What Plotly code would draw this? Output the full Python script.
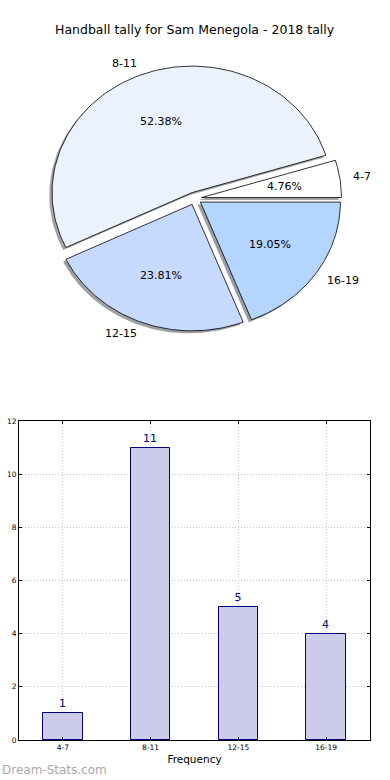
import numpy as np
import plotly.graph_objects as go

# ---- data ----
categories = ["4-7", "8-11", "12-15", "16-19"]
counts = [1, 11, 5, 4]
slice_colors = ["#ffffff", "#eaf2fe", "#c6d9fe", "#b3d5fe"]
y_ticks = [0, 2, 4, 6, 8, 10, 12]

title_text = "Handball tally for Sam Menegola - 2018 tally"
x_label = "Frequency"
y_label = "Scores in bin"
watermark = "Dream-Stats.com"

FONT = "DejaVu Sans"
explode = 0.05

fig = go.Figure()

# ---- pie drawn as filled polygons on its own axes (x2/y2) ----
total = float(sum(counts))
fracs = [c / total for c in counts]
starts = np.cumsum([0] + fracs[:-1]) * 360.0
ends = np.cumsum(fracs) * 360.0


def hex_to_rgb(h):
    h = h.lstrip("#")
    return tuple(int(h[i:i + 2], 16) for i in (0, 2, 4))


wedges = []
for cat, f, t1, t2, col in zip(categories, fracs, starts, ends, slice_colors):
    mid = np.deg2rad((t1 + t2) / 2)
    dx, dy = explode * np.cos(mid), explode * np.sin(mid)
    th = np.deg2rad(np.linspace(t1, t2, 120))
    xs = np.concatenate([[dx], dx + np.cos(th), [dx]])
    ys = np.concatenate([[dy], dy + np.sin(th), [dy]])
    wedges.append((cat, f, mid, dx, dy, xs, ys, col))

# shadows first
for cat, f, mid, dx, dy, xs, ys, col in wedges:
    r, g, b = hex_to_rgb(col)
    sc = "rgba(%d,%d,%d,0.5)" % (int(0.3 * r), int(0.3 * g), int(0.3 * b))
    fig.add_trace(go.Scatter(x=xs - 0.02, y=ys - 0.02, mode="lines", fill="toself",
                             fillcolor=sc, line=dict(width=0), hoverinfo="skip",
                             showlegend=False, xaxis="x2", yaxis="y2"))

for cat, f, mid, dx, dy, xs, ys, col in wedges:
    fig.add_trace(go.Scatter(x=xs, y=ys, mode="lines", fill="toself",
                             fillcolor=col, line=dict(color="black", width=0.8),
                             name=cat, showlegend=False, xaxis="x2", yaxis="y2",
                             hoverinfo="name"))
    lx, ly = dx + 1.1 * np.cos(mid), dy + 1.1 * np.sin(mid)
    fig.add_annotation(x=lx, y=ly, xref="x2", yref="y2", text=cat, showarrow=False,
                       xanchor="left" if lx > 0 else "right", yanchor="middle",
                       xshift=-3 if lx > 0 else 3,
                       font=dict(family=FONT, size=11, color="black"))
    px, py = dx + 0.6 * np.cos(mid), dy + 0.6 * np.sin(mid)
    fig.add_annotation(x=px, y=py, xref="x2", yref="y2", text="%.2f%%" % (f * 100),
                       showarrow=False, xanchor="center", yanchor="middle",
                       font=dict(family=FONT, size=11, color="black"))

# ---- bar chart ----
fig.add_trace(go.Bar(x=list(range(len(categories))), y=counts, width=0.45,
                     marker=dict(color="#ccccea", line=dict(color="#000080", width=1)),
                     text=[str(c) for c in counts], textposition="outside",
                     textfont=dict(family=FONT, size=11, color="#000080"),
                     cliponaxis=False, showlegend=False, xaxis="x", yaxis="y"))

W, H = 390, 780
cx_px, cy_px = 194.6, 198.5
rx_px, ry_px = 140.0, 126.5

grid_common = dict(showgrid=True, gridcolor="#c4c4c4", griddash="1px,2px", gridwidth=1,
                   tickfont=dict(size=7.5), ticks="inside", ticklen=3, tickcolor="black",
                   showline=True, linecolor="black", linewidth=1, mirror="ticks",
                   zeroline=False, layer="above traces", automargin=False)

fig.update_layout(
    width=W, height=H,
    margin=dict(l=0, r=0, t=0, b=0, pad=0, autoexpand=False),
    paper_bgcolor="white", plot_bgcolor="white",
    font=dict(family=FONT, color="black"),
    bargap=0,
    xaxis=dict(domain=[19 / W, 370 / W], range=[-0.5, 3.5],
               tickmode="array", tickvals=list(range(len(categories))), ticktext=categories,
               title=dict(text=x_label, font=dict(size=10.5), standoff=4), **grid_common),
    yaxis=dict(domain=[1 - 740 / H, 1 - 421 / H], range=[0, 12],
               tickmode="array", tickvals=y_ticks, ticktext=[str(v) for v in y_ticks],
               **grid_common),
    xaxis2=dict(domain=[0, 1], range=[-cx_px / rx_px, (W - cx_px) / rx_px],
                visible=False, fixedrange=True, automargin=False),
    yaxis2=dict(domain=[0.5, 1], range=[-(390 - cy_px) / ry_px, cy_px / ry_px],
                visible=False, fixedrange=True, automargin=False),
)

fig.add_annotation(x=0.5, y=1 - 30 / H, xref="paper", yref="paper", text=title_text,
                   showarrow=False, xanchor="center", yanchor="middle",
                   font=dict(family=FONT, size=12.5, color="black"))
fig.add_annotation(x=-7 / W, y=1 - 580 / H, xref="paper", yref="paper", text=y_label,
                   showarrow=False, textangle=-90, xanchor="center", yanchor="middle",
                   font=dict(family=FONT, size=10, color="black"))
fig.add_annotation(x=0, y=1 - 770 / H, xref="paper", yref="paper", text=watermark,
                   showarrow=False, xanchor="left", yanchor="middle",
                   font=dict(family=FONT, size=12, color="#a8a8a8"))

fig.write_html("out.html", config={"displayModeBar": False},
               post_script="document.body.style.margin='0';")
